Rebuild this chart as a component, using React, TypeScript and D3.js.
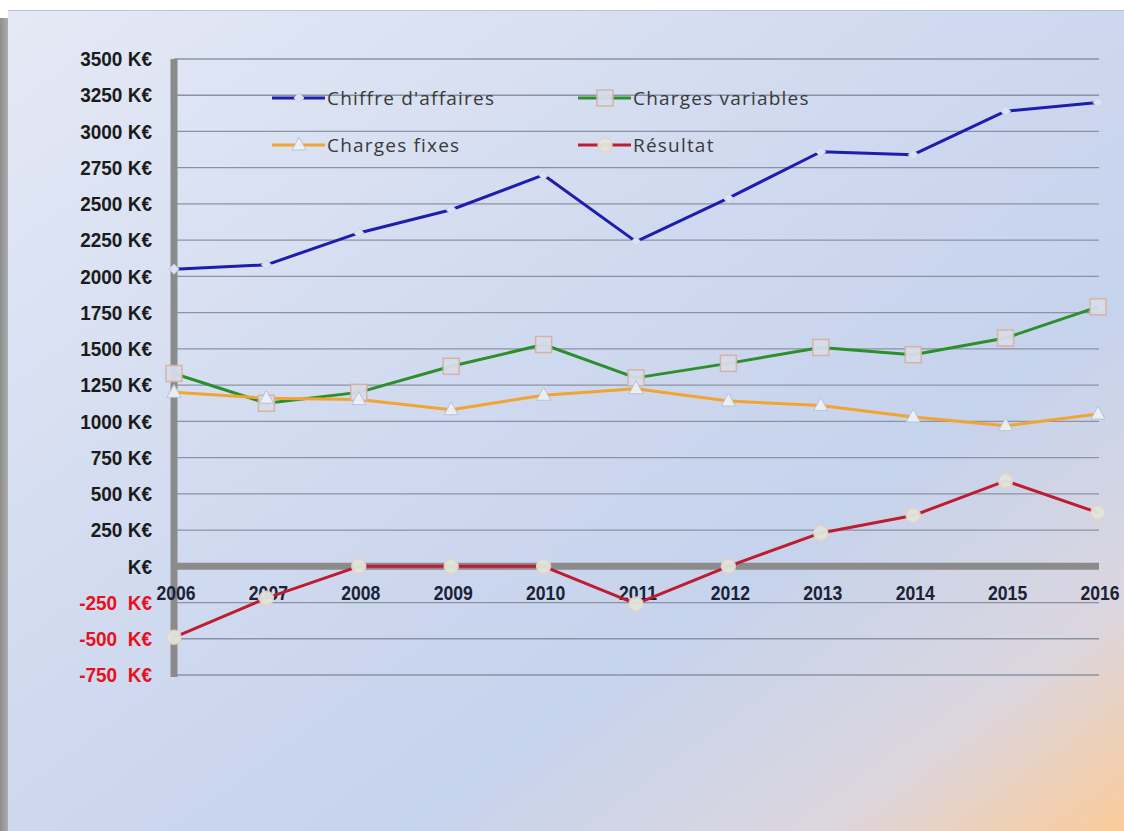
import React from "react";
import * as d3 from "d3";

const years = ["2006", "2007", "2008", "2009", "2010", "2011", "2012", "2013", "2014", "2015", "2016"];
const chiffreAffaires = [2050, 2080, 2300, 2460, 2700, 2240, 2540, 2860, 2840, 3140, 3200];
const chargesVariables = [1330, 1125, 1200, 1380, 1530, 1300, 1400, 1510, 1460, 1575, 1790];
const chargesFixes = [1200, 1160, 1150, 1080, 1180, 1225, 1140, 1110, 1030, 970, 1050];
const resultat = [-490, -220, 0, 0, 0, -260, 0, 230, 350, 590, 370];
const yTicks = [-750, -500, -250, 0, 250, 500, 750, 1000, 1250, 1500, 1750, 2000, 2250, 2500, 2750, 3000, 3250, 3500];

const W = 1124;
const H = 831;

type Series = { name: string; values: number[]; color: string; marker: string };
const series: Series[] = [
  { name: "Chiffre d'affaires", values: chiffreAffaires, color: "#1d1dae", marker: "diamond" },
  { name: "Charges variables", values: chargesVariables, color: "#2b8f2b", marker: "square" },
  { name: "Charges fixes", values: chargesFixes, color: "#f2a433", marker: "triangle" },
  { name: "Résultat", values: resultat, color: "#be1c30", marker: "circle" },
];

function Marker({ kind, x, y }: { kind: string; x: number; y: number }) {
  if (kind === "diamond") {
    return <path d={`M${x},${y - 5}L${x + 5},${y}L${x},${y + 5}L${x - 5},${y}Z`} fill="#dbe3f2" stroke="#c8d2e6" strokeWidth={1} />;
  }
  if (kind === "square") {
    return <rect x={x - 8} y={y - 8} width={16} height={16} fill="#d8dcea" stroke="#d6b2a4" strokeWidth={1.5} opacity={0.95} />;
  }
  if (kind === "triangle") {
    return <path d={`M${x},${y - 8}L${x + 7},${y + 5}L${x - 7},${y + 5}Z`} fill="#eef1f7" stroke="#b8c2d8" strokeWidth={1} opacity={0.95} />;
  }
  return <circle cx={x} cy={y} r={7} fill="#dfe7de" stroke="#ead2c2" strokeWidth={1.5} opacity={0.95} />;
}

export default function App() {
  const x = d3.scalePoint<string>().domain(years).range([174, 1098]);
  const y = d3.scaleLinear().domain([-750, 3500]).range([675, 59]);
  const line = (vals: number[]) =>
    d3.line<number>().x((_, i) => x(years[i]) as number).y((v) => y(v))(vals) as string;

  const axisFont = "'Liberation Sans', Arial, sans-serif";
  const legendFont = "'Open Sans', 'Noto Sans', sans-serif";

  const legendPos = [
    { x: 272, y: 98 },
    { x: 578, y: 98 },
    { x: 272, y: 145 },
    { x: 578, y: 145 },
  ];

  return (
    <svg width={W} height={H} style={{ position: "absolute", left: 0, top: 0 }}>
      <defs>
        <linearGradient id="bg" x1="0" y1="0" x2="1" y2="1">
          <stop offset="0" stopColor="#e4e9f5" />
          <stop offset="0.45" stopColor="#cfd9ef" />
          <stop offset="0.68" stopColor="#c6d3ec" />
          <stop offset="0.86" stopColor="#dbd6df" />
          <stop offset="1" stopColor="#fbcb9a" />
        </linearGradient>
        <linearGradient id="shadow" x1="0" y1="0" x2="1" y2="0">
          <stop offset="0" stopColor="#8e8e8e" />
          <stop offset="1" stopColor="#b4b4b4" />
        </linearGradient>
      </defs>
      <rect x={0} y={0} width={W} height={H} fill="#ffffff" />
      <rect x={0} y={18} width={10} height={H - 18} fill="url(#shadow)" />
      <rect x={8} y={10} width={W - 8} height={H - 10} fill="url(#bg)" />
      <line x1={8} y1={10.5} x2={W} y2={10.5} stroke="#b9c4d6" strokeWidth={1} />

      {/* grid lines */}
      {yTicks.map((t) => (
        <line key={t} x1={174} x2={1099} y1={y(t)} y2={y(t)} stroke="#8a93a4" strokeWidth={1.3} />
      ))}

      {/* zero axis and vertical axis */}
      <line x1={174} x2={1099} y1={y(0)} y2={y(0)} stroke="#8b8b8b" strokeWidth={7} />
      <line x1={174} x2={174} y1={59} y2={677} stroke="#8b8b8b" strokeWidth={7} />

      {/* y tick labels */}
      {yTicks.map((t) => (
        <text
          key={"l" + t}
          transform={`translate(152,${y(t)}) scale(0.95,1)`}
          dy="0.36em"
          textAnchor="end"
          fontFamily={axisFont}
          fontWeight="bold"
          fontSize={20}
          fill={t < 0 ? "#e8101c" : "#1b1b1b"}
          style={{ whiteSpace: "pre" }}
        >
          {t === 0 ? "K€" : t < 0 ? `${t}  K€` : `${t} K€`}
        </text>
      ))}

      {/* x labels */}
      {years.map((yr) => (
        <text
          key={yr}
          transform={`translate(${(x(yr) as number) + 2},593) scale(0.88,1)`}
          dy="0.36em"
          textAnchor="middle"
          fontFamily={axisFont}
          fontWeight="bold"
          fontSize={20}
          fill="#1a2236"
        >
          {yr}
        </text>
      ))}

      {/* series lines */}
      {series.map((s) => (
        <path key={s.name} d={line(s.values)} fill="none" stroke={s.color} strokeWidth={3} strokeLinejoin="round" />
      ))}
      {series.map((s) =>
        s.values.map((v, i) => <Marker key={s.name + i} kind={s.marker} x={x(years[i]) as number} y={y(v)} />)
      )}

      {/* legend */}
      {series.map((s, i) => (
        <g key={"lg" + s.name}>
          <line x1={legendPos[i].x} x2={legendPos[i].x + 53} y1={legendPos[i].y} y2={legendPos[i].y} stroke={s.color} strokeWidth={3} />
          <Marker kind={s.marker} x={legendPos[i].x + 27} y={legendPos[i].y} />
          <text
            x={legendPos[i].x + 55}
            y={legendPos[i].y}
            dy="0.35em"
            fontFamily={legendFont}
            fontSize={19}
            letterSpacing={1.2}
            fill="#3a3a3a"
          >
            {s.name}
          </text>
        </g>
      ))}
    </svg>
  );
}
